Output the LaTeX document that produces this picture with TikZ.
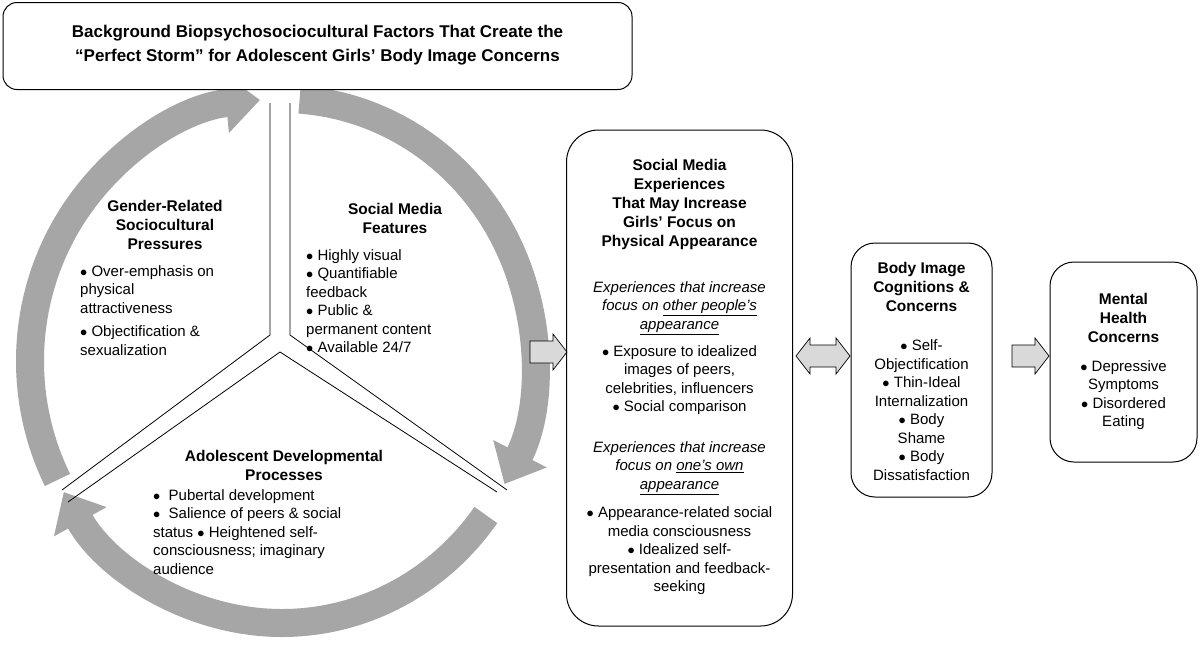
\documentclass[tikz,border=0pt]{standalone}
\usepackage{fontspec}
\setmainfont{Liberation Sans}
\usetikzlibrary{arrows.meta}
\definecolor{ring}{HTML}{A6A6A6}
\definecolor{blk}{HTML}{D9D9D9}
\tikzset{
 box/.style={draw=black,line width=1pt,rounded corners=22pt,fill=white},
 ringarc/.style={draw=ring,line width=28pt,-{Triangle[width=58pt,length=34pt]}},
 txt/.style={font=\fontsize{15}{18.5}\selectfont,align=center,inner sep=0},
 ltxt/.style={font=\fontsize{15}{18.5}\selectfont,align=left,inner sep=0,anchor=north west},
 hd/.style={font=\fontsize{15.5}{19}\selectfont\bfseries,align=center,inner sep=0},
 blockarrow/.style={draw=black,fill=blk,line width=0.7pt,line join=miter},
}
\begin{document}
\begin{tikzpicture}[x=1pt,y=-1pt]
\useasboundingbox (0,0) rectangle (1200,657);
% ring arcs (center 282,360); y axis flipped, so visual angle a is math angle -a
\draw[ringarc] (282,361) ++(-207:252 and 262) arc[start angle=-207,end angle=-95,x radius=252,y radius=262];
\draw[ringarc] (282,361) ++(-86:252 and 262) arc[start angle=-86,end angle=28,x radius=252,y radius=262];
\draw[ringarc] (282,361) ++(36:252 and 262) arc[start angle=36,end angle=150,x radius=252,y radius=262];
% title
\node[box,rounded corners=14pt,minimum width=629pt,minimum height=87pt] (title) at (317.5,46) {};
\node[hd,font=\fontsize{17}{24}\selectfont\bfseries] (titletxt) at (317.5,45) {Background Biopsychosociocultural Factors That Create the\\``Perfect Storm'' for Adolescent Girls' Body Image Concerns};
% dividers
\draw[line width=0.8pt] (270,103) -- (270,335) -- (62,490);
\draw[line width=0.8pt] (290,103) -- (290,335) -- (507,490);
\draw[line width=0.8pt] (68,502) -- (280,352) -- (497,492);
% sector texts
\node[hd] (g1) at (165,225) {Gender-Related\\Sociocultural\\Pressures};
\node[ltxt] (g2) at (80,265) {$\bullet$ Over-emphasis on\\physical\\attractiveness\\[5pt]$\bullet$ Objectification \&\\sexualization};
\node[hd] (s1) at (395,218) {Social Media\\Features};
\node[ltxt] (s2) at (306,249) {$\bullet$ Highly visual\\$\bullet$ Quantifiable\\feedback\\$\bullet$ Public \&\\permanent content\\$\bullet$ Available 24/7};
\node[hd] (a1) at (284,465) {Adolescent Developmental\\Processes};
\node[ltxt] (a2) at (153,489) {$\bullet$\ \ Pubertal development\\$\bullet$\ \ Salience of peers \& social\\status $\bullet$ Heightened self-\\consciousness; imaginary\\audience};
% big box
\node[box,rounded corners=32pt,minimum width=226pt,minimum height=496pt] (sm) at (679.5,378) {};
\node[hd] (smh) at (679.5,204) {Social Media\\Experiences\\That May Increase\\Girls' Focus on\\Physical Appearance};
\node[txt] (sm1) at (679.5,308) {\itshape Experiences that increase\\\itshape focus on \underline{other people's}\\\itshape \underline{appearance}};
\node[txt] (sm2) at (679.5,380) {$\bullet$ Exposure to idealized\\images of peers,\\celebrities, influencers\\$\bullet$ Social comparison};
\node[txt] (sm3) at (679.5,468) {\itshape Experiences that increase\\\itshape focus on \underline{one's own}\\\itshape \underline{appearance}};
\node[txt] (sm4) at (679.5,551) {$\bullet$ Appearance-related social\\media consciousness\\$\bullet$ Idealized self-\\presentation and feedback-\\seeking};
% body image
\node[box,rounded corners=24pt,minimum width=141pt,minimum height=254pt] (bi) at (921.5,370) {};
\node[hd] (bih) at (921.5,287) {Body Image\\Cognitions \&\\Concerns};
\node[txt] (bit) at (921.5,410) {$\bullet$ Self-\\Objectification\\$\bullet$ Thin-Ideal\\Internalization\\$\bullet$ Body\\Shame\\$\bullet$ Body\\Dissatisfaction};
% mental health
\node[box,rounded corners=24pt,minimum width=147pt,minimum height=200pt] (mh) at (1123.5,362) {};
\node[hd] (mhh) at (1123.5,318) {Mental\\Health\\Concerns};
\node[txt] (mht) at (1123.5,395) {$\bullet$ Depressive\\Symptoms\\$\bullet$ Disordered\\Eating};
% block arrows
\draw[blockarrow] (530,341) -- (553,341) -- (553,334) -- (567,352) -- (553,370) -- (553,363) -- (530,363) -- cycle;
\draw[blockarrow] (796,356) -- (810,338) -- (810,345) -- (836,345) -- (836,338) -- (850,356) -- (836,374) -- (836,367) -- (810,367) -- (810,374) -- cycle;
\draw[blockarrow] (1012,345) -- (1035,345) -- (1035,338) -- (1049,356) -- (1035,374) -- (1035,367) -- (1012,367) -- cycle;
\end{tikzpicture}
\end{document}
